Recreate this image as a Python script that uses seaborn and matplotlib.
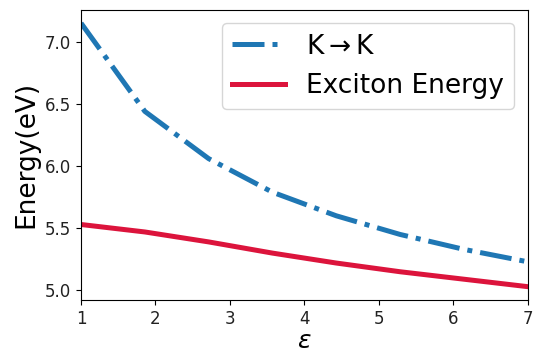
import numpy as np
import pandas as pd
import matplotlib
matplotlib.use("Agg")
import matplotlib.pyplot as plt
import seaborn as sns

eps = [1.0, 1.857, 2.714, 3.571, 4.429, 5.286, 6.143, 7.0]
k_to_k = [7.15, 6.44, 6.06, 5.79, 5.60, 5.45, 5.33, 5.23]
exciton = [5.53, 5.47, 5.39, 5.30, 5.22, 5.15, 5.09, 5.03]

df = pd.DataFrame({"eps": eps, "kk": k_to_k, "ex": exciton})

fig = plt.figure(figsize=(5.33, 3.54), dpi=100)
ax = fig.add_axes([0.152, 0.153, 0.838, 0.819])

sns.lineplot(data=df, x="eps", y="kk", ax=ax, color="#1f77b4", linewidth=3.6,
             linestyle="-.", label=r"K$\rightarrow$K")
sns.lineplot(data=df, x="eps", y="ex", ax=ax, color="#DC143C", linewidth=3.6,
             label="Exciton Energy")

ax.set_xlim(1, 7)
ax.set_xticks([1, 2, 3, 4, 5, 6, 7])
ax.set_yticks([5.0, 5.5, 6.0, 6.5, 7.0])
ax.tick_params(labelsize=12, labelcolor="#222222")
ax.set_xlabel(r"$\varepsilon$", fontsize=18, labelpad=1)
ax.set_ylabel("Energy(eV)", fontsize=19)
ax.legend(loc="upper right", fontsize=19)

fig.savefig("out.png", dpi=100)
